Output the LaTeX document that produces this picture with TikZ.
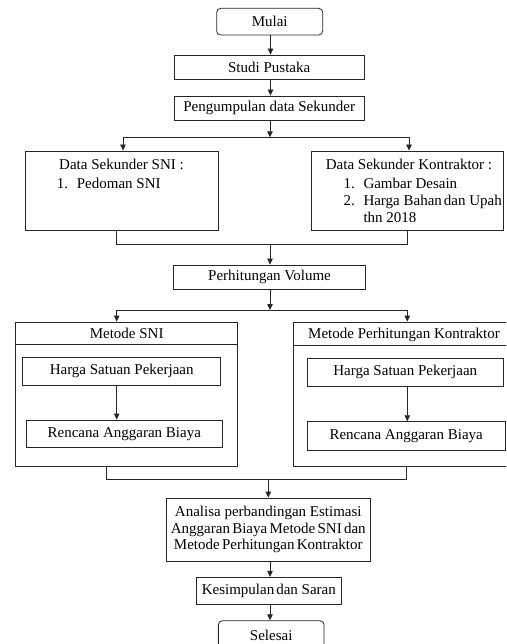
\documentclass[tikz,border=0pt]{standalone}
\usepackage{fontspec}
\setmainfont{Liberation Serif}
\usetikzlibrary{arrows.meta}
\newcommand{\tightsp}{\spaceskip=0.15em plus 0.05em\relax}
\begin{document}
\begin{tikzpicture}[x=1pt,y=-1pt,
  font=\fontsize{15}{17}\selectfont,
  line/.style={draw=black!85,line width=0.8pt},
  arr/.style={line,-{Triangle[length=6pt,width=5.5pt]}},
  box/.style={line,rectangle,inner sep=0pt,align=center},
  rbox/.style={box,rounded corners=4pt},
  txt/.style={inner sep=0pt,anchor=base west},
  ctxt/.style={inner sep=0pt,anchor=base}]
\useasboundingbox (0,0) rectangle (506,644);
\clip (0,0) rectangle (506,644);
\fill[white] (0,0) rectangle (506,644);

% boxes
\node[rbox,minimum width=106pt,minimum height=26.7pt] (mulai) at (269.7,21.7) {Mulai};
\node[box,minimum width=189.7pt,minimum height=24pt] (studi) at (269.2,67) {Studi Pustaka};
\node[box,minimum width=189.7pt,minimum height=24.7pt] (kumpul) at (269.2,108.3) {Pengumpulan data Sekunder};

\node[box,minimum width=193pt,minimum height=79.7pt] (dsni) at (121.5,190.8) {};
\node[box,minimum width=191.6pt,minimum height=79.7pt] (dkon) at (407.5,190.8) {};

\node[ctxt] (dsnit) at (121.5,170) {Data Sekunder SNI :};
\node[txt] (dsn1) at (56.7,188.3) {1.};
\node[txt] (dsn1t) at (76.7,188.3) {Pedoman SNI};

\node[ctxt] (dkont) at (409,170) {Data Sekunder Kontraktor :};
\node[txt] (dk1) at (343.3,188.3) {1.};
\node[txt] (dk1t) at (363.3,188.3) {Gambar Desain};
\node[txt] (dk2) at (343.3,206) {2.};
\node[txt] (dk2t) at (363.3,206) {Harga Bahan\hspace{2pt}dan Upah};
\node[txt] (dk2u) at (363.3,222.5) {thn 2018};

\node[box,minimum width=192.4pt,minimum height=24.3pt] (vol) at (269.5,277.2) {Perhitungan Volume};

\node[box,minimum width=222pt,minimum height=144pt] (msni) at (126.7,394) {};
\node[box,minimum width=222pt,minimum height=144pt] (mkon) at (404.3,394) {};
\draw[line] (msni.west |- 0,344.3) -- (msni.east |- 0,344.3);
\draw[line] (mkon.west |- 0,345) -- (mkon.east |- 0,345);
\node[ctxt] (msnit) at (126.7,338) {Metode SNI};
\node[ctxt] (mkont) at (404,338.5) {Metode Perhitungan Kontraktor};

\node[box,minimum width=198pt,minimum height=27.7pt] (hsp1) at (121.7,371.2) {Harga Satuan Pekerjaan};
\node[box,minimum width=196.7pt,minimum height=27.7pt] (rab1) at (124.3,433.8) {Rencana Anggaran Biaya};
\node[box,minimum width=196pt,minimum height=27.7pt] (hsp2) at (405.3,372.2) {Harga Satuan Pekerjaan};
\node[box,minimum width=197.7pt,minimum height=28.3pt] (rab2) at (406.2,435.8) {Rencana Anggaran Biaya};

\node[box,minimum width=203.3pt,minimum height=63pt,font=\fontsize{15}{16.7}\selectfont] (anal) at (268.3,529.5)
  {Analisa perbandingan Estimasi\\{\tightsp Anggaran Biaya Metode SNI dan}\\{\tightsp Metode Perhitungan Kontraktor}};
\node[box,minimum width=145.7pt,minimum height=26.7pt] (kes) at (268.8,590.7) {Kesimpulan\hspace{2pt}dan Saran};
\node[rbox,minimum width=105.7pt,minimum height=30pt] (sel) at (271.2,635.7) {Selesai};

% connectors
\draw[arr] (mulai.south -| 270.5,0) -- (studi.north -| 270.5,0);
\draw[arr] (studi.south -| 270.5,0) -- (kumpul.north -| 270.5,0);

\coordinate (s1) at (270,137.3);
\coordinate (s1l) at (123,137.3);
\coordinate (s1r) at (409,137.3);
\draw[arr] (kumpul.south -| s1) -- (s1);
\draw[line] (s1l) -- (s1r);
\draw[arr] (s1l) -- (s1l |- dsni.north);
\draw[arr] (s1r) -- (s1r |- dkon.north);

\coordinate (m1) at (270,244);
\coordinate (m1l) at (116.7,244);
\coordinate (m1r) at (407.3,244);
\draw[line] (m1l |- dsni.south) -- (m1l) -- (m1r) -- (m1r |- dkon.south);
\draw[arr] (m1) -- (m1 |- vol.north);

\coordinate (s2) at (270,310);
\coordinate (s2l) at (116.7,310);
\coordinate (s2r) at (407.3,310);
\draw[arr] (vol.south -| s2) -- (s2);
\draw[line] (s2l) -- (s2r);
\draw[arr] (s2l) -- (s2l |- msni.north);
\draw[arr] (s2r) -- (s2r |- mkon.north);

\draw[arr] (hsp1.south -| 116.7,0) -- (rab1.north -| 116.7,0);
\draw[arr] (hsp2.south -| 407.3,0) -- (rab2.north -| 407.3,0);

\coordinate (m2) at (268.3,479.3);
\coordinate (m2l) at (106,479.3);
\coordinate (m2r) at (406.7,479.3);
\draw[line] (m2l |- msni.south) -- (m2l) -- (m2r) -- (m2r |- mkon.south);
\draw[arr] (m2) -- (m2 |- anal.north);

\draw[arr] (anal.south -| 270,0) -- (kes.north -| 270,0);
\draw[arr] (kes.south -| 270,0) -- (sel.north -| 270,0);
\end{tikzpicture}
\end{document}
